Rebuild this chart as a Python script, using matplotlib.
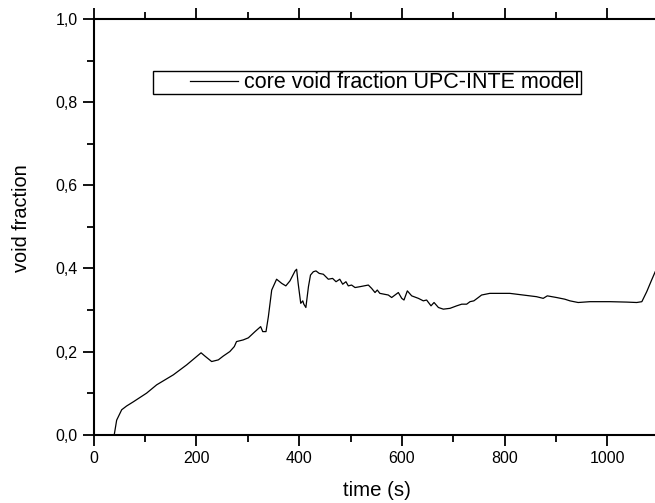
import matplotlib
matplotlib.use("Agg")
import matplotlib.pyplot as plt
from matplotlib.ticker import MultipleLocator, FuncFormatter
from matplotlib.legend_handler import HandlerLine2D

plt.rcParams['font.family'] = ['Liberation Sans', 'DejaVu Sans']

# values
time_s = [0, 40, 44.7, 54.5, 64, 77, 103, 122.6, 155, 181, 209, 216.6, 229.6, 242.6,
          252, 265, 273.7, 278, 291, 301, 314, 325, 329, 335.4, 340, 346.5, 356,
          366, 374, 382, 392, 395, 398, 403, 407, 409, 413, 418, 422, 427.5, 432.7,
          439, 447, 456.7, 465, 471.7, 479, 484.7, 491, 495.6, 502, 508.7, 518,
          534.6, 541, 547.6, 552, 557, 573.5, 580, 593, 599.6, 604, 610.5, 619, 632,
          641.6, 648, 656.6, 662.5, 671, 680.6, 693.6, 706.6, 716.4, 726, 732.5,
          740, 748.7, 755, 771, 810, 836, 862, 875, 883, 901, 917, 927, 943, 966,
          1005, 1037.5, 1057, 1067, 1076.5, 1086, 1093]
void_frac = [0, 0, 0.035, 0.06, 0.069, 0.079, 0.1, 0.12, 0.144, 0.168, 0.197, 0.189,
             0.176, 0.18, 0.189, 0.2, 0.212, 0.224, 0.228, 0.233, 0.248, 0.26, 0.248,
             0.248, 0.284, 0.348, 0.374, 0.364, 0.358, 0.37, 0.394, 0.398, 0.364,
             0.316, 0.322, 0.314, 0.306, 0.356, 0.384, 0.392, 0.394, 0.388, 0.386,
             0.374, 0.376, 0.368, 0.374, 0.362, 0.368, 0.358, 0.36, 0.354, 0.356,
             0.36, 0.352, 0.342, 0.348, 0.340, 0.336, 0.33, 0.342, 0.328, 0.324,
             0.346, 0.334, 0.328, 0.322, 0.324, 0.31, 0.318, 0.306, 0.302, 0.304,
             0.31, 0.314, 0.314, 0.32, 0.322, 0.33, 0.336, 0.34, 0.34, 0.336, 0.332,
             0.328, 0.334, 0.33, 0.326, 0.322, 0.318, 0.32, 0.32, 0.319, 0.318, 0.32,
             0.344, 0.372, 0.392]


class ShortLine(HandlerLine2D):
    # draw the legend line only over the right part of the handle box
    def get_xdata(self, legend, xdescent, ydescent, width, height, fontsize):
        xdata = [-xdescent + 0.42 * width, -xdescent + width]
        return xdata, [-xdescent + 0.7 * width]


fig = plt.figure(figsize=(6.55, 5.03), dpi=100)
ax = fig.add_axes([93.7 / 655, 68.3 / 503, 565.1 / 655, 415.7 / 503])

line, = ax.plot(time_s, void_frac, color='black', lw=0.9,
                label='core void fraction UPC-INTE model')

ax.set_xlim(0, 1100)
ax.set_ylim(0, 1.0)
ax.xaxis.set_major_locator(MultipleLocator(200))
ax.xaxis.set_minor_locator(MultipleLocator(100))
ax.yaxis.set_major_locator(MultipleLocator(0.2))
ax.yaxis.set_minor_locator(MultipleLocator(0.1))
ax.yaxis.set_major_formatter(FuncFormatter(lambda v, p: f'{v:.1f}'.replace('.', ',')))
ax.xaxis.set_major_formatter(FuncFormatter(lambda v, p: f'{v:.0f}'))

ax.tick_params(which='both', direction='out', top=True, right=False, width=1.3,
               labelsize=11.5, colors='black')
ax.tick_params(which='major', length=8)
ax.tick_params(which='minor', length=5)
for s in ax.spines.values():
    s.set_linewidth(1.5)

fig.text(377 / 655, 1 - 491 / 503, 'time (s)', fontsize=14.7, ha='center', va='center')
fig.text(22 / 655, 1 - 218.5 / 503, 'void fraction', fontsize=14.3, rotation=90,
         ha='center', va='center')

ax.legend(handler_map={line: ShortLine()}, loc='upper left',
          bbox_to_anchor=((153.3 - 93.7) / 565.1, (434.7 - 71) / 415.7),
          fancybox=False, edgecolor='black', framealpha=1, fontsize=15.5,
          handlelength=3.9, handletextpad=0.28, borderpad=0.05, borderaxespad=0)

fig.savefig('out.png', dpi=100)
